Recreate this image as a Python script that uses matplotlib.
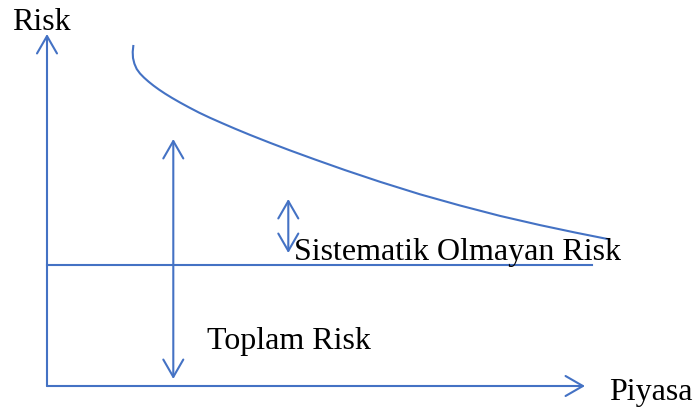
import matplotlib
matplotlib.use("Agg")
import matplotlib.pyplot as plt

# diagram coordinates, in pixels of the 694x410 picture (y grows downward)
curve_x = [133.3, 132.7, 133.0, 134.4, 136.7, 140.0, 144.0, 148.5, 153.5, 159.0, 165.0, 172.0,
           180.0, 189.0, 199.0, 210.0, 222.0, 235.0, 250.0, 270.0, 290.0, 315.0, 345.0, 380.0,
           420.0, 460.0, 500.0, 540.0, 575.0, 607.0]
curve_y = [47.0, 53.0, 59.0, 64.7, 70.0, 74.5, 78.6, 82.6, 86.6, 90.6, 94.6, 98.9,
           103.5, 108.4, 113.6, 118.8, 124.1, 129.7, 135.9, 143.8, 151.4, 160.5, 171.1, 182.8,
           195.3, 206.5, 216.9, 226.1, 233.5, 239.9]

origin = (47, 387)
y_axis_top = 35
x_axis_end = 585

systematic_y = 266
systematic_x = [47, 592]

total_arrow_x = 173.3
total_arrow_y = [140, 380]
unsys_arrow_x = 288.3
unsys_arrow_y = [200, 254]

labels = {
    "Risk": (12, 30),
    "Sistematik Olmayan Risk": (294, 260),
    "Toplam Risk": (207, 349),
    "Piyasa": (609, 400),
}

blue = "#4472C4"
lw = 1.5

plt.rcParams["font.family"] = ["Liberation Serif", "DejaVu Serif"]

fig = plt.figure(figsize=(6.94, 4.10), dpi=100)
ax = fig.add_axes([0, 0, 1, 1])
ax.set_xlim(0, 694)
ax.set_ylim(410, 0)
ax.axis("off")

arrow_one = dict(arrowstyle="->,head_length=12.5,head_width=7.2", color=blue, lw=lw,
                 mutation_scale=1, shrinkA=0, shrinkB=0)
arrow_two = dict(arrowstyle="<->,head_length=12.5,head_width=7.2", color=blue, lw=lw,
                 mutation_scale=1, shrinkA=0, shrinkB=0)

# axes
ax.annotate("", xy=(origin[0], y_axis_top), xytext=origin, arrowprops=arrow_one)
ax.annotate("", xy=(x_axis_end, origin[1]), xytext=origin, arrowprops=arrow_one)

# total risk curve and systematic risk line
ax.plot(curve_x, curve_y, color=blue, lw=lw, solid_joinstyle="round")
ax.plot(systematic_x, [systematic_y, systematic_y], color=blue, lw=lw)

# double arrows
ax.annotate("", xy=(total_arrow_x, total_arrow_y[0]), xytext=(total_arrow_x, total_arrow_y[1]),
            arrowprops=arrow_two)
ax.annotate("", xy=(unsys_arrow_x, unsys_arrow_y[0]), xytext=(unsys_arrow_x, unsys_arrow_y[1]),
            arrowprops=arrow_two)

for txt, (x, y) in labels.items():
    ax.text(x, y, txt, fontsize=23, color="black", ha="left", va="baseline")

fig.savefig("out.png", dpi=100, facecolor="white")
